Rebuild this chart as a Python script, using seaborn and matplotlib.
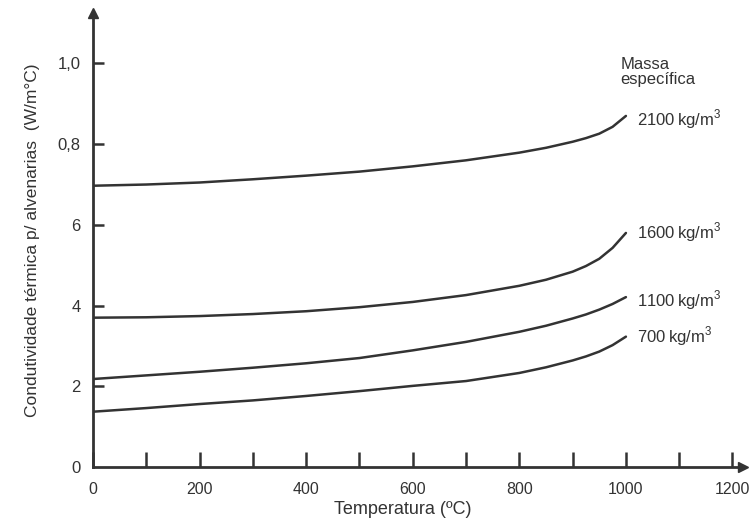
import matplotlib
matplotlib.use("Agg")
import matplotlib.pyplot as plt
import seaborn as sns
import pandas as pd

# ---- data ----
temperatures = [0, 100, 200, 300, 400, 500, 600, 700, 800, 850, 900, 925, 950, 975, 1000]
k_2100 = [0.697, 0.700, 0.705, 0.713, 0.722, 0.732, 0.745, 0.760, 0.779, 0.791, 0.806, 0.815, 0.826, 0.843, 0.870]
k_1600 = [0.370, 0.371, 0.374, 0.379, 0.386, 0.396, 0.409, 0.426, 0.449, 0.464, 0.484, 0.498, 0.516, 0.543, 0.580]
k_1100 = [0.218, 0.227, 0.236, 0.246, 0.257, 0.270, 0.289, 0.310, 0.335, 0.350, 0.368, 0.378, 0.390, 0.404, 0.421]
k_700 = [0.137, 0.146, 0.156, 0.165, 0.176, 0.188, 0.201, 0.213, 0.233, 0.247, 0.264, 0.274, 0.286, 0.302, 0.323]
series_labels = ["2100\u2009kg/m$^3$", "1600\u2009kg/m$^3$", "1100\u2009kg/m$^3$", "700\u2009kg/m$^3$"]
x_tick_values = list(range(0, 1300, 100))
x_tick_labels = ["0", "", "200", "", "400", "", "600", "", "800", "", "1000", "", "1200"]
y_tick_values = [0.0, 0.2, 0.4, 0.6, 0.8, 1.0]
y_tick_labels = ["0", "2", "4", "6", "0,8", "1,0"]

series = [k_2100, k_1600, k_1100, k_700]
df = pd.concat(
    [pd.DataFrame({"T": temperatures, "k": vals, "serie": lab})
     for vals, lab in zip(series, series_labels)],
    ignore_index=True,
)

sns.set_style("white", {"xtick.bottom": True, "ytick.left": True})
plt.rcParams["font.family"] = ["Liberation Sans", "DejaVu Sans"]
plt.rcParams["mathtext.fontset"] = "custom"
plt.rcParams["mathtext.rm"] = "Liberation Sans"

ink = "#333333"
fig = plt.figure(figsize=(7.49, 5.23), dpi=100)
ax = fig.add_axes([0.1242, 0.1071, 0.868, 0.868])

sns.lineplot(data=df, x="T", y="k", units="serie", estimator=None,
             color=ink, linewidth=1.8, ax=ax, legend=False)

ax.set_xlim(0, 1220)
ax.set_ylim(0, 1.125)
for s in ["top", "right"]:
    ax.spines[s].set_visible(False)
for s in ["left", "bottom"]:
    ax.spines[s].set_color(ink)
    ax.spines[s].set_linewidth(2)

# arrow heads
ax.plot(1, 0, marker=">", color=ink, markersize=7, transform=ax.get_yaxis_transform(), clip_on=False)
ax.plot(0, 1, marker="^", color=ink, markersize=7, transform=ax.get_xaxis_transform(), clip_on=False)

ax.set_xticks(x_tick_values)
ax.set_xticklabels(x_tick_labels)
ax.set_yticks(y_tick_values)
ax.set_yticklabels(y_tick_labels)
ax.xaxis.set_tick_params(which="major", bottom=True, direction="in", length=10.5, width=1.8,
                         color=ink, labelsize=11.5, labelcolor=ink, pad=11)
ax.yaxis.set_tick_params(which="major", left=True, direction="in", length=0, width=1.8,
                         color=ink, labelsize=12, labelcolor=ink, pad=9)
# inward y tick marks at the tick values (axes-fraction length)
ax.hlines(y_tick_values[1:], 0, 0.017, transform=ax.get_yaxis_transform(),
          colors=ink, linewidth=1.8, zorder=5)

ax.set_xlabel("Temperatura (ºC)", fontsize=13, color=ink)
ax.set_ylabel("Condutividade térmica p/ alvenarias  (W/m°C)", fontsize=12.5, color=ink)
ax.xaxis.set_label_coords(0.477, -0.075)
ax.yaxis.set_label_coords(-0.082, 0.5)

ax.text(990, 1.015, "Massa\nespecífica", fontsize=12, color=ink, va="top", ha="left",
        linespacing=1.0)
label_y = [0.861, 0.583, 0.414, 0.323]
for lab, yy in zip(series_labels, label_y):
    ax.text(1020, yy, lab, fontsize=12, color=ink, va="center", ha="left")

fig.savefig("out.png", dpi=100)
